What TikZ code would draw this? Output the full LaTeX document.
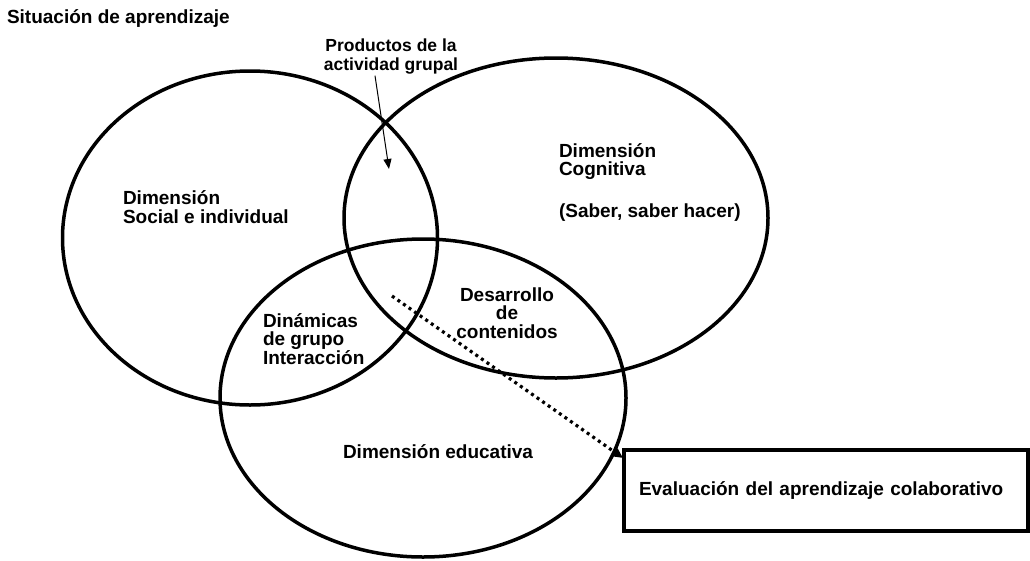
\documentclass[tikz,border=0pt]{standalone}
\usepackage{fontspec}
\setmainfont{Liberation Sans}
\usetikzlibrary{shapes.geometric,arrows.meta,calc}
\begin{document}
\begin{tikzpicture}[x=1pt,y=-1pt,
  venn/.style={ellipse,draw,line width=3.5pt,inner sep=0pt,outer sep=0pt},
  lbl/.style={font=\fontsize{19}{18.5}\selectfont\bfseries,inner sep=0pt,outer sep=0pt},
  evalbox/.style={draw,line width=4pt,inner xsep=15pt,inner ysep=0pt,outer sep=0pt,
    minimum width=404pt,minimum height=81pt,text width=374pt,align=left,
    font=\fontsize{19}{18.5}\selectfont\bfseries},
  thinarrow/.style={line width=1pt,-{Triangle[length=10pt,width=8pt]}},
  dotarrow/.style={line width=3.2pt,dash pattern=on 3pt off 3.8pt,
    -{Triangle[length=10pt,width=9pt]}}]
\useasboundingbox (0,0) rectangle (1030,560);
% ellipses
\node[venn,minimum width=375pt,minimum height=334pt] (social) at (250,238) {};
\node[venn,minimum width=424pt,minimum height=320pt] (cogn) at (556,218) {};
\node[venn,minimum width=406pt,minimum height=318pt] (educ) at (423,398) {};
% texts (base anchor = baseline of the last line)
\node[lbl,anchor=base west] (title) at (7,23) {Situación de aprendizaje};
\node[lbl,anchor=base,align=center,font=\fontsize{17.5}{19}\selectfont\bfseries] (prod) at (391,70) {Productos de la\\actividad grupal};
\node[lbl,anchor=base west,align=left] (tsocial) at (123,223) {Dimensión\\Social e individual};
\node[lbl,anchor=base west,align=left] (tcogn) at (559,217) {Dimensión\\Cognitiva\\[23pt](Saber, saber hacer)};
\node[lbl,anchor=base,align=center] (tdes) at (507,338) {Desarrollo\\de\\contenidos};
\node[lbl,anchor=base west,align=left] (tdin) at (263,364) {Dinámicas\\de grupo\\Interacción};
\node[lbl,anchor=base west] (teduc) at (343,458) {Dimensión educativa};
\node[evalbox,anchor=north west] (eval) at (624,450) {Evaluación del aprendizaje colaborativo};
% arrows
\coordinate (prodtip) at (389,169);
\draw[thinarrow] ([xshift=-16pt,yshift=-2pt]prod.south) -- (prodtip);
\coordinate (dotstart) at (392,296);
\draw[dotarrow] (dotstart) -- ($(eval.north west)+(-1,8)$);
\end{tikzpicture}
\end{document}
